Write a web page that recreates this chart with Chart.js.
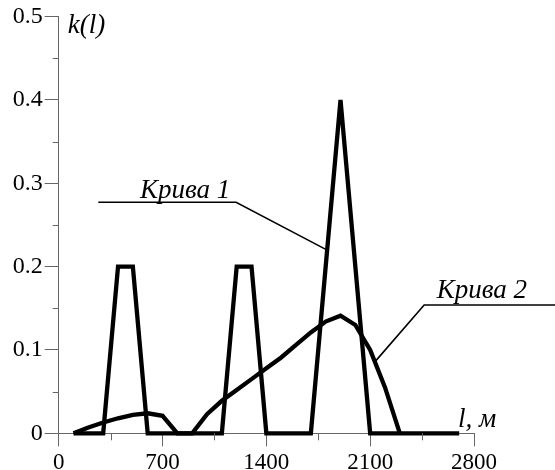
<!DOCTYPE html>
<html>
<head>
<meta charset="utf-8">
<script src="https://cdn.jsdelivr.net/npm/chart.js@4.4.1/dist/chart.umd.min.js"></script>
<style>
html,body{margin:0;padding:0;background:#fff;}
canvas{display:block;}
</style>
</head>
<body>
<canvas id="c" width="555" height="470"></canvas>
<script>
// ---- data ----
const curve1X = [100, 300, 400, 500, 600, 1100, 1200, 1300, 1400, 1700, 1900, 2100, 2700];
const curve1Y = [0, 0, 0.2, 0.2, 0, 0, 0.2, 0.2, 0, 0, 0.4, 0, 0];
const curve2X = [100, 200, 300, 400, 500, 600, 700, 800, 900, 1000, 1100, 1200, 1300, 1400, 1500, 1600, 1700, 1800, 1900, 2000, 2100, 2200, 2300];
const curve2Y = [0, 0.007, 0.013, 0.018, 0.022, 0.024, 0.021, 0, 0, 0.023, 0.039, 0.052, 0.065, 0.078, 0.091, 0.106, 0.121, 0.134, 0.141, 0.13, 0.1, 0.055, 0];
const xTickValues = [0, 700, 1400, 2100, 2800];
const yTickValues = [0, 0.1, 0.2, 0.3, 0.4, 0.5];
const xMinorTicks = [350, 1050, 1750, 2450];
const yMinorTicks = [0.05, 0.15, 0.25, 0.35, 0.45];
const curveLabels = ['Крива 1', 'Крива 2'];
const yAxisTitle = 'k(l)';
const xAxisTitle = 'l, м';

// label anchors (data coordinates)
const label1Text = [548, 0.282];
const label1Path = [[267, 0.2772], [1196, 0.2772], [1807, 0.22]];
const label2Text = [2549, 0.162];
const label2Path = [[3400, 0.154], [2464, 0.154], [2133, 0.086]];

const pts = (xs, ys) => xs.map((x, i) => ({x, y: ys[i]}));
const SERIF = "'Liberation Serif', serif";

const extras = {
  id: 'extras',
  afterDraw(chart) {
    const {ctx, scales: {x, y}} = chart;
    const area = chart.chartArea;
    ctx.save();
    ctx.strokeStyle = '#666';
    ctx.lineWidth = 1;
    ctx.beginPath();
    xMinorTicks.forEach(v => {
      const px = Math.round(x.getPixelForValue(v)) + 0.5;
      ctx.moveTo(px, area.bottom);
      ctx.lineTo(px, area.bottom + 7);
    });
    yMinorTicks.forEach(v => {
      const py = Math.round(y.getPixelForValue(v)) + 0.5;
      ctx.moveTo(area.left - 6, py);
      ctx.lineTo(area.left, py);
    });
    ctx.stroke();

    ctx.fillStyle = '#000';
    ctx.font = 'italic 27px ' + SERIF;
    ctx.textBaseline = 'alphabetic';
    ctx.textAlign = 'left';
    ctx.fillText(yAxisTitle, area.left + 9, y.getPixelForValue(0.5) + 16);
    ctx.fillText(xAxisTitle, x.getPixelForValue(2800) - 16, area.bottom - 6);

    const drawLabel = (text, tpos, path) => {
      ctx.font = 'italic 27px ' + SERIF;
      ctx.fillText(text, x.getPixelForValue(tpos[0]), y.getPixelForValue(tpos[1]));
      ctx.beginPath();
      path.forEach((p, i) => {
        const px = x.getPixelForValue(p[0]), py = y.getPixelForValue(p[1]);
        if (i === 0) ctx.moveTo(px, py); else ctx.lineTo(px, py);
      });
      ctx.strokeStyle = '#000';
      ctx.lineWidth = 1.6;
      ctx.stroke();
    };
    drawLabel(curveLabels[0], label1Text, label1Path);
    drawLabel(curveLabels[1], label2Text, label2Path);
    ctx.restore();
  }
};

new Chart(document.getElementById('c'), {
  type: 'line',
  data: {
    datasets: [
      {data: pts(curve1X, curve1Y), borderColor: '#000', borderWidth: 4.3, pointRadius: 0, tension: 0, fill: false, clip: false},
      {data: pts(curve2X, curve2Y), borderColor: '#000', borderWidth: 4.3, pointRadius: 0, tension: 0, fill: false, clip: false}
    ]
  },
  options: {
    responsive: false,
    animation: false,
    events: [],
    layout: {padding: {top: 16.5, right: 81, bottom: 0, left: 0}},
    plugins: {legend: {display: false}, tooltip: {enabled: false}},
    scales: {
      x: {
        type: 'linear', min: 0, max: 2800,
        afterBuildTicks: s => { s.ticks = xTickValues.map(v => ({value: v})); },
        ticks: {color: '#000', font: {family: SERIF, size: 23}, padding: 3, maxRotation: 0, autoSkip: false,
                callback: v => String(v)},
        grid: {drawOnChartArea: false, drawTicks: true, tickLength: 13, tickColor: '#666'},
        border: {color: '#666', width: 1},
        afterFit: s => { s.height = 36.7; }
      },
      y: {
        type: 'linear', min: 0, max: 0.5,
        afterBuildTicks: s => { s.ticks = yTickValues.map(v => ({value: v})); },
        ticks: {color: '#000', font: {family: SERIF, size: 24}, padding: 2, autoSkip: false,
                callback: v => v === 0 ? '0' : v.toFixed(1)},
        grid: {drawOnChartArea: false, drawTicks: true, tickLength: 14, tickColor: '#666'},
        border: {color: '#666', width: 1},
        afterFit: s => { s.width = 58.7; }
      }
    }
  },
  plugins: [extras]
});
</script>
</body>
</html>
